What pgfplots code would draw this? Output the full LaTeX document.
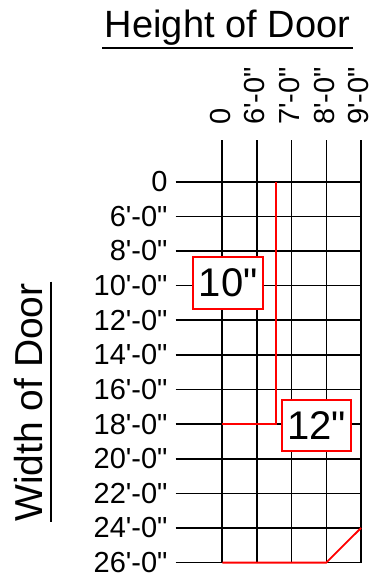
\documentclass[border=0pt]{standalone}
\usepackage{fontspec}
\setmainfont{Liberation Sans}
\usepackage{pgfplots}
\pgfplotsset{compat=1.18}
\newcommand\ft[1]{#1\textquotesingle-0\textquotedbl}

\begin{document}
\begin{tikzpicture}
  \useasboundingbox (0,0) rectangle (375pt,-575pt);
  \begin{axis}[
    at={(175.7pt,-140pt)}, anchor=north west,
    scale only axis, width=185.3pt, height=422.6pt,
    xmin=-1.343, xmax=4, ymin=-1.205, ymax=11, y dir=reverse,
    axis line style={draw=none},
    major tick length=0pt,
    xtick={0,1,2,3,4},
    xticklabels={0,\ft6,\ft7,\ft8,\ft9},
    ytick={0,1,2,3,4,5,6,7,8,9,10,11},
    yticklabels={0,\ft6,\ft8,\ft{10},\ft{12},\ft{14},\ft{16},\ft{18},\ft{20},\ft{22},\ft{24},\ft{26}},
    xticklabel pos=upper,
    grid=major, major grid style={black, line width=1.6pt},
    clip=false,
    ticklabel style={font=\fontsize{29}{29}\selectfont, inner sep=0pt},
    xticklabel style={rotate=90, anchor=west, yshift=2pt},
    yticklabel style={anchor=east},
    xticklabel shift=15pt, yticklabel shift=8pt,
  ]
    % frame limits drawn in red
    \addplot[red, line width=1.8pt] coordinates {(0,7) (1.55,7) (1.55,0)};
    \addplot[red, line width=1.8pt] coordinates {(0,11) (3,11) (4,10)};
    \node[draw=red, line width=1.6pt, fill=white, minimum width=70pt, minimum height=52pt,
          inner sep=0pt, font=\fontsize{40}{40}\selectfont] at (axis cs:0.17,2.93) {10\textquotedbl};
    \node[draw=red, line width=1.6pt, fill=white, minimum width=69pt, minimum height=51pt,
          inner sep=0pt, font=\fontsize{40}{40}\selectfont] at (axis cs:2.72,7.04) {12\textquotedbl};
  \end{axis}
  \node[anchor=base, font=\fontsize{38}{38}\selectfont] at (227.5pt,-37.3pt) {Height of Door};
  \draw[line width=1.6pt] (102pt,-48.3pt) -- (353pt,-48.3pt);
  \node[anchor=base, rotate=90, font=\fontsize{39}{39}\selectfont] at (42pt,-402.5pt) {Width of Door};
  \draw[line width=1.6pt] (50.7pt,-281.7pt) -- (50.7pt,-522pt);
\end{tikzpicture}
\end{document}
